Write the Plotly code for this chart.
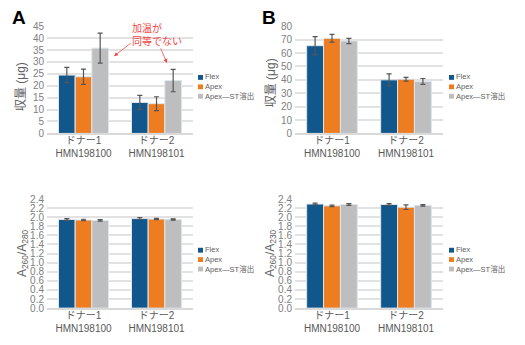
import plotly.graph_objects as go

categories = ["ドナー1<br>HMN198100", "ドナー2<br>HMN198101"]
series_names = ["Flex", "Apex", "Apex—ST溶出"]
colors = ["#11578C", "#EE7D22", "#BEBEC0"]

# Panel A: yield (μg)
yield_a = [[24.5, 13.0], [23.8, 12.5], [35.8, 22.2]]
yield_a_err = [[3.2, 3.0], [3.2, 2.9], [6.3, 4.7]]
# Panel B: yield (μg)
yield_b = [[65.5, 40.0], [71.0, 40.5], [69.0, 38.8]]
yield_b_err = [[6.8, 4.4], [2.9, 1.4], [1.9, 2.2]]
# Panel C: A260/A280
ratio_c = [[1.95, 1.97], [1.94, 1.96], [1.93, 1.95]]
ratio_c_err = [[0.02, 0.02], [0.015, 0.015], [0.015, 0.015]]
# Panel D: A260/A230
ratio_d = [[2.29, 2.28], [2.25, 2.22], [2.28, 2.26]]
ratio_d_err = [[0.02, 0.02], [0.015, 0.05], [0.02, 0.015]]

W, H = 525, 345
def px(x): return x / W
def py(y): return 1 - y / H

fig = go.Figure()

panels = [
    (yield_a, yield_a_err, "x", "y"),
    (yield_b, yield_b_err, "x2", "y2"),
    (ratio_c, ratio_c_err, "x3", "y3"),
    (ratio_d, ratio_d_err, "x4", "y4"),
]
for vals, errs, xa, ya in panels:
    for name, color, v, e in zip(series_names, colors, vals, errs):
        fig.add_trace(go.Bar(
            x=categories, y=v, name=name, xaxis=xa, yaxis=ya,
            marker=dict(color=color, line=dict(color="#DCE6EE", width=1)),
            error_y=dict(type="data", array=e, visible=True, color="#555555",
                         thickness=1.2, width=2.5),
            showlegend=False,
        ))

tickfont = dict(family="Liberation Sans, Arial, sans-serif", size=10, color="#808080")
catfont = dict(family="Liberation Sans, Noto Sans CJK JP, sans-serif", size=10, color="#595959")
grid = "#E2E2E2"

dom_left = [px(47), px(193)]
dom_right = [px(295), px(443)]
dom_top = [py(132), py(21)]
dom_bot = [py(313), py(200)]

def xax(domain, anchor):
    return dict(domain=domain, anchor=anchor, showgrid=False, showline=True,
                linecolor="#D9D9D9", linewidth=2, tickfont=catfont, ticks="",
                ticklabelstandoff=-3, fixedrange=True)

def yax(domain, anchor, rng, dtick, fmt=None):
    d = dict(domain=domain, anchor=anchor, range=rng, dtick=dtick, showgrid=True,
             gridcolor=grid, gridwidth=2, zeroline=False, showline=False,
             tickfont=tickfont, ticks="", ticklabelstandoff=2)
    if fmt:
        d["tickformat"] = fmt
    return d

fig.update_layout(
    width=W, height=H, margin=dict(l=0, r=0, t=0, b=0),
    paper_bgcolor="white", plot_bgcolor="white",
    barmode="group", bargap=0.315, bargroupgap=0,
    xaxis=xax(dom_left, "y"), yaxis=yax(dom_top, "x", [0, 45], 5),
    xaxis2=xax(dom_right, "y2"), yaxis2=yax(dom_top, "x2", [0, 80], 10),
    xaxis3=xax(dom_left, "y3"), yaxis3=yax(dom_bot, "x3", [0, 2.4], 0.2, ".1f"),
    xaxis4=xax(dom_right, "y4"), yaxis4=yax(dom_bot, "x4", [0, 2.4], 0.2, ".1f"),
    font=dict(family="Liberation Sans, Noto Sans CJK JP, sans-serif"),
)

ann = []
def note(text, x, y, font, **kw):
    d = dict(text=text, x=px(x), y=py(y), xref="paper", yref="paper",
             xanchor="center", yanchor="middle", showarrow=False, font=font)
    d.update(kw)
    ann.append(d)

letterf = dict(size=19, color="black", family="Liberation Sans, Arial")
note("<b>A</b>", 19, 12, letterf)
note("<b>B</b>", 269, 12, letterf)

ytf = dict(size=12, color="#606060", family="Liberation Sans, Noto Sans CJK JP, sans-serif")
note("収量 (μg)", 21, 84, ytf, textangle=-90)
note("収量 (μg)", 271, 80, ytf, textangle=-90)
note("A<sub>260</sub>/A<sub>280</sub>", 23, 256, ytf, textangle=-90)
note("A<sub>260</sub>/A<sub>230</sub>", 271, 256, ytf, textangle=-90)

red = "#F04848"
note("加温が<br>同等でない", 157, 29, dict(size=10, color=red, family="Noto Sans CJK JP, sans-serif"),
     align="left")
ann.append(dict(text="", x=px(114), y=py(52), xref="paper", yref="paper",
                showarrow=True, ax=18, ay=-14, arrowhead=2, arrowsize=1, arrowwidth=0.8,
                arrowcolor=red))
ann.append(dict(text="", x=px(167), y=py(59), xref="paper", yref="paper",
                showarrow=True, ax=-7, ay=-16, arrowhead=2, arrowsize=1, arrowwidth=0.8,
                arrowcolor=red))

# Compact legends built from series names and colors
shapes = []
lfs = 7.5
lh = lfs * 1.3
legf = dict(size=lfs, color="#606060", family="Liberation Sans, Noto Sans CJK JP, sans-serif")
for lx, ly0 in [(198, 74), (449, 74), (198, 253), (449, 253)]:
    for i, color in enumerate(colors):
        cy = ly0 + i * lh
        shapes.append(dict(type="rect", xref="paper", yref="paper",
                           x0=px(lx), x1=px(lx + 5), y0=py(cy + 2.5), y1=py(cy - 2.5),
                           fillcolor=color, line=dict(width=0)))
    ann.append(dict(text="<br>".join(series_names), x=px(lx + 6), y=py(ly0 + lh),
                    xref="paper", yref="paper", xanchor="left", yanchor="middle",
                    align="left", showarrow=False, font=legf, borderpad=0))

fig.update_layout(annotations=ann, shapes=shapes)
fig.write_html("out.html")
